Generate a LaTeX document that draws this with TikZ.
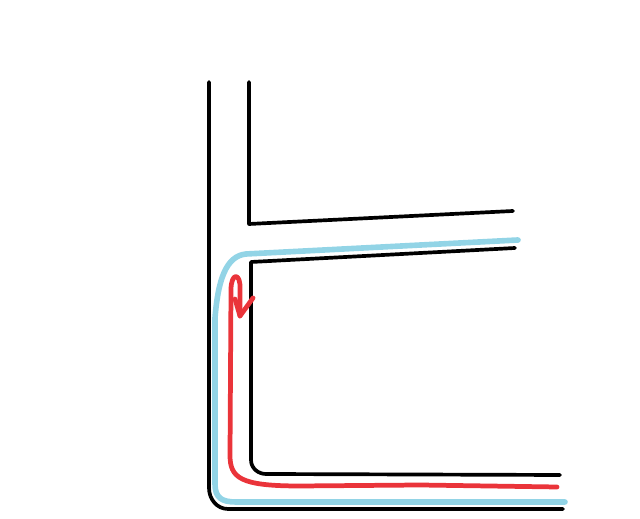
\documentclass[tikz,border=0pt]{standalone}
\usepackage{tikz}
\usetikzlibrary{calc}

\definecolor{pipeblue}{RGB}{146,212,230}
\definecolor{flowred}{RGB}{234,52,58}

\tikzset{
    wall/.style={draw=black, line width=2.1pt, line cap=round, line join=round},
    film/.style={draw=pipeblue, line width=3.2pt, line cap=round, line join=round},
    flow/.style={draw=flowred, line width=2.7pt, line cap=round, line join=round}
}

\begin{document}
\begin{tikzpicture}[x=0.02cm, y=-0.02cm]
    %%Background
    \useasboundingbox (0,0) rectangle (640,519);

    %%Walls
    \draw[wall] (209,82) -- (209,488) to[out=270,in=180] (228,509) -- (563,509);
    \draw[wall] (249,82) -- (249,224) -- (513,211);
    \draw[wall] (515,248) -- (251,262) -- (251,460) to[out=270,in=180] (266,474) -- (560,475);

    %%Blue film
    \draw[film] (518,240) -- (246,254) .. controls (226,256) and (218,280) .. (215,318)
        -- (215,484) .. controls (215,498) and (222,502) .. (236,502) -- (565,502);

    %%Red flow
    \draw[flow] (557,487) -- (420,485) -- (300,486) .. controls (240,486) and (230,478) .. (230,455)
        -- (231,290) .. controls (231,272) and (241,272) .. (240,290) -- (240,316);
    \draw[flow] (235,299) -- (240,316) -- (253,298);
\end{tikzpicture}
\end{document}
